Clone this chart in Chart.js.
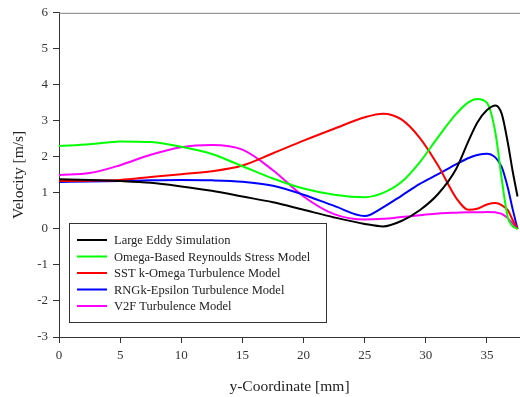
<!DOCTYPE html>
<html>
<head>
<meta charset="utf-8">
<script src="https://cdn.jsdelivr.net/npm/chart.js@4/dist/chart.umd.min.js"></script>
<style>
  html, body { margin: 0; padding: 0; background: #fff; }
  #wrap { width: 520px; height: 397px; }
</style>
</head>
<body>
<div id="wrap"><canvas id="myChart" width="520" height="397"></canvas></div>
<script>
// y-coordinate [mm] shared by every series
var yCoord = [0, 2.5, 5, 7.5, 10, 12.5, 15, 17.5, 20, 22.5, 25, 26.5, 28, 29.5, 31, 32.5, 33.5, 34.2, 35, 35.7, 36.2, 36.7, 37.1, 37.5];

var les   = [1.38, 1.36, 1.33, 1.28, 1.18, 1.06, 0.90, 0.74, 0.53, 0.32, 0.14, 0.07, 0.22, 0.52, 0.97, 1.68, 2.45, 2.95, 3.30, 3.43, 3.20, 2.40, 1.60, 0.90];
var omega = [2.30, 2.35, 2.43, 2.41, 2.28, 2.08, 1.74, 1.40, 1.12, 0.95, 0.88, 1.00, 1.30, 1.85, 2.55, 3.20, 3.52, 3.61, 3.50, 2.65, 1.40, 0.32, 0.08, 0.00];
var sst   = [1.33, 1.34, 1.36, 1.44, 1.52, 1.60, 1.76, 2.10, 2.45, 2.78, 3.10, 3.20, 3.04, 2.53, 1.76, 0.85, 0.53, 0.56, 0.68, 0.72, 0.66, 0.52, 0.25, 0.00];
var rng   = [1.30, 1.32, 1.33, 1.35, 1.36, 1.35, 1.31, 1.20, 0.95, 0.64, 0.36, 0.60, 0.92, 1.25, 1.52, 1.80, 1.97, 2.05, 2.09, 1.98, 1.72, 1.15, 0.55, 0.00];
var v2f   = [1.50, 1.55, 1.77, 2.06, 2.27, 2.33, 2.20, 1.63, 0.90, 0.41, 0.26, 0.28, 0.33, 0.38, 0.43, 0.45, 0.46, 0.46, 0.47, 0.46, 0.42, 0.30, 0.15, 0.00];

var seriesNames = ['Large Eddy Simulation', 'Omega-Based Reynoulds Stress Model', 'SST k-Omega Turbulence Model', 'RNGk-Epsilon Turbulence Model', 'V2F Turbulence Model'];
var seriesColors = ['#000000', '#00ff00', '#ff0000', '#0000ff', '#ff00ff'];
var xTicks = [0, 5, 10, 15, 20, 25, 30, 35];
var yTicks = [-3, -2, -1, 0, 1, 2, 3, 4, 5, 6];

function toPoints(vals) {
    return vals.map(function (v, i) { return { x: yCoord[i], y: v }; });
}

var allSeries = [les, omega, sst, rng, v2f];
var datasets = allSeries.map(function (vals, i) {
    return {
        label: seriesNames[i],
        data: toPoints(vals),
        borderColor: seriesColors[i],
        backgroundColor: seriesColors[i],
        borderWidth: 2,
        pointRadius: 0,
        cubicInterpolationMode: 'monotone',
        fill: false
    };
});

var serif = "'Liberation Serif', 'DejaVu Serif', serif";

// top frame line + legend box inside the plot
var framePlugin = {
    id: 'frame',
    afterDatasetsDraw: function (chart) {
        var ctx = chart.ctx;
        var a = chart.chartArea;
        ctx.save();
        ctx.strokeStyle = '#808080';
        ctx.lineWidth = 1;
        ctx.beginPath();
        ctx.moveTo(a.left, a.top + 0.5);
        ctx.lineTo(a.right, a.top + 0.5);
        ctx.stroke();

        var bx = 69, by = 223, bw = 257, bh = 99;
        ctx.fillStyle = '#ffffff';
        ctx.fillRect(bx, by, bw, bh);
        ctx.strokeStyle = '#333333';
        ctx.strokeRect(bx + 0.5, by + 0.5, bw, bh);

        ctx.font = '12.5px ' + serif;
        ctx.textBaseline = 'middle';
        chart.data.datasets.forEach(function (ds, i) {
            var y = 240 + i * 16.5;
            ctx.strokeStyle = ds.borderColor;
            ctx.lineWidth = 2;
            ctx.beginPath();
            ctx.moveTo(77, y);
            ctx.lineTo(107, y);
            ctx.stroke();
            ctx.fillStyle = '#222222';
            ctx.fillText(ds.label, 114, y + 1);
        });
        ctx.restore();
    }
};

const myChart = new Chart(document.getElementById('myChart'), {
    type: 'line',
    data: { datasets: datasets },
    options: {
        responsive: false,
        animation: false,
        layout: { padding: { top: 11, right: 0, left: 0, bottom: 0 } },
        plugins: {
            legend: { display: false },
            tooltip: { enabled: false }
        },
        scales: {
            x: {
                type: 'linear',
                min: 0,
                max: 37.7,
                afterBuildTicks: function (scale) {
                    scale.ticks = xTicks.map(function (v) { return { value: v }; });
                },
                afterFit: function (scale) { scale.height = 60; },
                grid: { drawOnChartArea: false, drawTicks: true, tickLength: 6, tickColor: '#333333' },
                border: { display: true, color: '#333333', width: 1 },
                ticks: { color: '#333333', padding: 5, maxRotation: 0, font: { family: serif, size: 13 } },
                title: {
                    display: true,
                    text: 'y-Coordinate [mm]',
                    color: '#222222',
                    padding: { top: 0, bottom: 1 },
                    font: { family: serif, size: 15.5 }
                }
            },
            y: {
                min: -3,
                max: 6,
                afterBuildTicks: function (scale) {
                    scale.ticks = yTicks.map(function (v) { return { value: v }; });
                },
                afterFit: function (scale) { scale.width = 59; },
                grid: { drawOnChartArea: false, drawTicks: true, tickLength: 6, tickColor: '#333333' },
                border: { display: true, color: '#333333', width: 1 },
                ticks: { color: '#333333', padding: 5, font: { family: serif, size: 13 } },
                title: {
                    display: true,
                    text: 'Velocity [m/s]',
                    color: '#222222',
                    padding: { top: 10, bottom: 0 },
                    font: { family: serif, size: 15.5 }
                }
            }
        }
    },
    plugins: [framePlugin]
});
</script>
</body>
</html>
